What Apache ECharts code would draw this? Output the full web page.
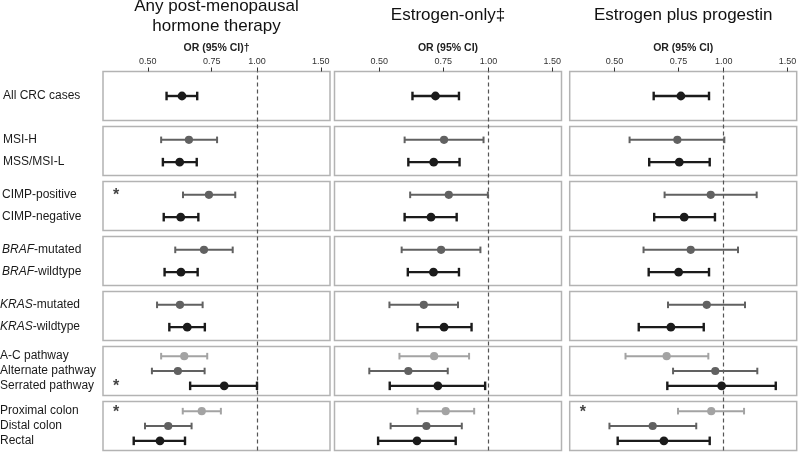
<!DOCTYPE html>
<html><head><meta charset="utf-8">
<script src="https://cdn.jsdelivr.net/npm/echarts@6/dist/echarts.min.js"></script>
<style>html,body{margin:0;padding:0;background:#fff}#c{width:798px;height:452px}</style>
</head><body><div id="c"></div>
<script>
// ---------------- DATA ----------------
const panelTitles = ['Any post-menopausal\nhormone therapy', 'Estrogen-only\u2021', 'Estrogen plus progestin'];
const axisNames = ['OR (95% CI)\u2020', 'OR (95% CI)', 'OR (95% CI)'];
const tickValues = [0.50, 0.75, 1.00, 1.50];
const refValue = 1.0;
const groups = [
  ['All CRC cases'],
  ['MSI-H', 'MSS/MSI-L'],
  ['CIMP-positive', 'CIMP-negative'],
  ['{i|BRAF}-mutated', '{i|BRAF}-wildtype'],
  ['{i|KRAS}-mutated', '{i|KRAS}-wildtype'],
  ['A-C pathway', 'Alternate pathway', 'Serrated pathway'],
  ['Proximal colon', 'Distal colon', 'Rectal']
];
// Any post-menopausal hormone therapy
const anyOR = [0.621, 0.649, 0.612, 0.737, 0.616, 0.714, 0.617, 0.613, 0.642, 0.630, 0.605, 0.812, 0.704, 0.569, 0.540];
const anyLo = [0.563, 0.544, 0.550, 0.625, 0.553, 0.595, 0.556, 0.530, 0.573, 0.544, 0.513, 0.654, 0.624, 0.491, 0.457];
const anyHi = [0.684, 0.776, 0.682, 0.871, 0.689, 0.857, 0.686, 0.708, 0.718, 0.729, 0.717, 1.000, 0.795, 0.660, 0.633];
// Estrogen-only
const eOR = [0.714, 0.754, 0.706, 0.777, 0.694, 0.740, 0.705, 0.663, 0.754, 0.708, 0.601, 0.725, 0.762, 0.674, 0.635];
const eLo = [0.617, 0.587, 0.601, 0.608, 0.587, 0.576, 0.599, 0.533, 0.637, 0.568, 0.469, 0.534, 0.637, 0.537, 0.496];
const eHi = [0.829, 0.969, 0.832, 0.996, 0.817, 0.950, 0.829, 0.824, 0.898, 0.884, 0.772, 0.979, 0.913, 0.844, 0.812];
// Estrogen plus progestin
const epOR = [0.762, 0.745, 0.754, 0.921, 0.778, 0.811, 0.751, 0.898, 0.715, 0.696, 0.948, 0.987, 0.924, 0.637, 0.684];
const epLo = [0.641, 0.550, 0.623, 0.687, 0.643, 0.601, 0.621, 0.702, 0.583, 0.536, 0.725, 0.699, 0.748, 0.484, 0.510];
const epHi = [0.911, 1.004, 0.915, 1.233, 0.946, 1.095, 0.911, 1.145, 0.881, 0.907, 1.238, 1.392, 1.138, 0.840, 0.915];
// significance markers (row labels per panel)
const starsAny = ['CIMP-positive', 'Serrated pathway', 'Proximal colon'];
const starsE = [];
const starsEP = ['Proximal colon'];

// ---------------- LAYOUT ----------------
const FONT = '"Liberation Sans", Arial, Helvetica, sans-serif';
const xMin = 0.376, xMax = 1.59;
const panelLeft = [103, 334.5, 569.7];
const panelW = 227;
const boxTop0 = 71.5, boxPitch = 55, boxH = 49;
const labelMargin = [100, 100, 101, 101, 103, 103, 103];
const tones = [
  { c: '#1b1b1b', w: 2.4, cap: 4.3, r: 4.4 },
  { c: '#616161', w: 2.0, cap: 3.3, r: 4.1 },
  { c: '#a3a3a3', w: 2.0, cap: 3.3, r: 4.1 }
];
const panelData = [[anyOR, anyLo, anyHi, starsAny], [eOR, eLo, eHi, starsE], [epOR, epLo, epHi, starsEP]];
const plain = s => s.replace(/\{i\|([^}]*)\}/g, '$1');

const grids = [], xAxes = [], yAxes = [], series = [], titles = [];

for (let p = 0; p < 3; p++) {
  const cx = panelLeft[p] + panelW / 2;
  titles.push({
    text: panelTitles[p], left: cx, textAlign: 'center', top: p === 0 ? -4 : 5, padding: 0,
    textStyle: { fontSize: 17, fontWeight: 'normal', lineHeight: 20, color: '#111', fontFamily: FONT }
  });
  titles.push({
    text: axisNames[p], left: cx, textAlign: 'center', top: 43, padding: 0,
    textStyle: { fontSize: 10.5, fontWeight: 'bold', color: '#222', fontFamily: FONT }
  });
  // overall panel grid (top axis + reference line)
  grids.push({ left: panelLeft[p], width: panelW, top: boxTop0, height: boxPitch * 6 + boxH, show: false, outerBoundsMode: 'none', containLabel: false });
  xAxes.push({
    gridIndex: p, type: 'log', min: xMin, max: xMax, position: 'top',
    axisLine: { show: true, onZero: false, lineStyle: { color: 'rgba(0,0,0,0)' } },
    axisTick: { show: true, inside: false, customValues: tickValues, length: 4, lineStyle: { color: '#333', width: 1 } },
    axisLabel: { customValues: tickValues, formatter: v => Number(v).toFixed(2), fontSize: 9, color: '#333', margin: 5, fontFamily: FONT },
    splitLine: { show: false }
  });
  yAxes.push({ gridIndex: p, type: 'value', min: 0, max: 1, show: false });
}
for (let p = 0; p < 3; p++) {
  series.push({
    type: 'line', xAxisIndex: p, yAxisIndex: p, data: [], z: 10, silent: true,
    markLine: {
      silent: true, symbol: 'none', label: { show: false },
      lineStyle: { type: [4, 3], color: '#555', width: 1.2 },
      data: [{ xAxis: refValue }]
    }
  });
}

let gi = 3;
for (let p = 0; p < 3; p++) {
  const [ors, los, his, stars] = panelData[p];
  let k = 0;
  groups.forEach((names, g) => {
    const n = names.length;
    const ext = n === 1 ? [-1, 1] : n === 2 ? [-0.6, 1.6] : [-0.65, 2.65];
    grids.push({
      left: panelLeft[p], width: panelW, top: boxTop0 + boxPitch * g, height: boxH,
      show: true, borderColor: '#b3b3b3', borderWidth: 1.5, backgroundColor: 'transparent',
      outerBoundsMode: 'none', containLabel: false
    });
    xAxes.push({ gridIndex: gi, type: 'log', min: xMin, max: xMax, show: false, axisLine: { onZero: false } });
    yAxes.push({
      gridIndex: gi, type: 'value', inverse: true, min: ext[0], max: ext[1],
      show: p === 0,
      axisLine: { show: false, onZero: false }, axisTick: { show: false }, splitLine: { show: false },
      axisLabel: {
        show: p === 0,
        customValues: names.map((_, j) => j),
        formatter: v => names[Math.round(v)],
        align: 'left', margin: labelMargin[g],
        fontSize: 12, color: '#1a1a1a', fontFamily: FONT,
        rich: { i: { fontStyle: 'italic', fontSize: 12, color: '#1a1a1a', fontFamily: FONT } }
      }
    });
    const items = names.map((nm, j) => [los[k + j], his[k + j], ors[k + j], j, n - 1 - j]);
    series.push({
      type: 'custom', xAxisIndex: gi, yAxisIndex: gi, data: items, z: 5,
      encode: { x: [0, 1, 2], y: 3 },
      renderItem: (params, api) => {
        const y = api.value(3);
        const lo = api.coord([api.value(0), y]);
        const hi = api.coord([api.value(1), y]);
        const md = api.coord([api.value(2), y]);
        const st = tones[api.value(4)];
        const ls = { stroke: st.c, lineWidth: st.w };
        return {
          type: 'group', children: [
            { type: 'line', shape: { x1: lo[0], y1: lo[1], x2: hi[0], y2: hi[1] }, style: ls },
            { type: 'line', shape: { x1: lo[0], y1: lo[1] - st.cap, x2: lo[0], y2: lo[1] + st.cap }, style: ls },
            { type: 'line', shape: { x1: hi[0], y1: hi[1] - st.cap, x2: hi[0], y2: hi[1] + st.cap }, style: ls },
            { type: 'circle', shape: { cx: md[0], cy: md[1], r: st.r }, style: { fill: st.c } }
          ]
        };
      }
    });
    const starItems = names.map((nm, j) => stars.includes(plain(nm)) ? [xMin, j] : null).filter(d => d);
    if (starItems.length) {
      series.push({
        type: 'scatter', xAxisIndex: gi, yAxisIndex: gi, data: starItems, symbolSize: 0, z: 6, silent: true,
        label: { show: true, formatter: '*', position: 'right', distance: 10, fontSize: 16, fontWeight: 'bold', color: '#111', fontFamily: FONT, offset: [0, 1] }
      });
    }
    k += n;
    gi++;
  });
}

const chart = echarts.init(document.getElementById('c'), null, { renderer: 'canvas' });
chart.setOption({
  animation: false,
  backgroundColor: '#fff',
  title: titles,
  grid: grids,
  xAxis: xAxes,
  yAxis: yAxes,
  series: series
});
</script>
</body></html>
